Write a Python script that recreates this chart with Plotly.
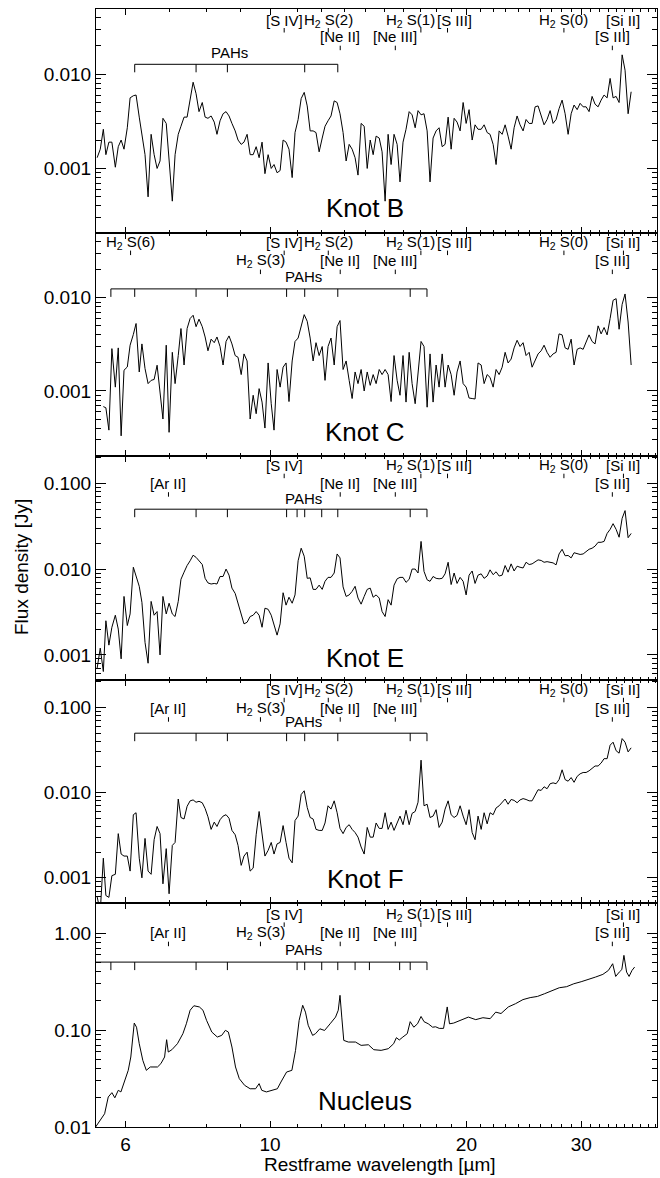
import numpy as np
import plotly.graph_objects as go
from plotly.subplots import make_subplots

# ---------------- data ----------------
# shared wavelength sampling (micron) for the four knot spectra
WAVE = [
    5.43, 5.49, 5.55, 5.60, 5.66, 5.72, 5.79, 5.85, 5.91, 5.97,
    6.04, 6.10, 6.17, 6.23, 6.30, 6.36, 6.43, 6.50, 6.57, 6.64,
    6.71, 6.78, 6.85, 6.93, 7.00, 7.08, 7.15, 7.23, 7.30, 7.38,
    7.46, 7.54, 7.62, 7.70, 7.78, 7.87, 7.95, 8.03, 8.12, 8.21,
    8.29, 8.38, 8.47, 8.56, 8.65, 8.74, 8.84, 8.93, 9.03, 9.12,
    9.22, 9.32, 9.42, 9.52, 9.62, 9.72, 9.82, 9.93, 10.04, 10.14,
    10.25, 10.36, 10.47, 10.58, 10.69, 10.81, 10.92, 11.04, 11.16, 11.28,
    11.40, 11.52, 11.64, 11.76, 11.89, 12.02, 12.14, 12.27, 12.40, 12.54,
    12.67, 12.80, 12.94, 13.08, 13.22, 13.36, 13.50, 13.64, 13.79, 13.94,
    14.09, 14.24, 14.39, 14.54, 14.70, 14.85, 15.01, 15.17, 15.33, 15.49,
    15.66, 15.82, 15.99, 16.16, 16.34, 16.51, 16.69, 16.86, 17.04, 17.22,
    17.41, 17.59, 17.78, 17.97, 18.16, 18.36, 18.55, 18.75, 18.95, 19.15,
    19.35, 19.56, 19.77, 19.98, 20.19, 20.41, 20.62, 20.84, 21.07, 21.29,
    21.52, 21.74, 21.98, 22.21, 22.45, 22.69, 22.93, 23.17, 23.42, 23.67,
    23.92, 24.17, 24.43, 24.69, 24.96, 25.22, 25.49, 25.76, 26.04, 26.31,
    26.59, 26.88, 27.16, 27.45, 27.74, 28.04, 28.34, 28.64, 28.95, 29.25,
    29.57, 29.88, 30.20, 30.52, 30.84, 31.17, 31.50, 31.84, 32.18, 32.52,
    32.87, 33.22, 33.57, 33.93, 34.29, 34.66, 35.02, 35.40, 35.78, 36.16,
]

FLUX_B = [
    0.0013, 0.0016, 0.0026, 0.0014, 0.0019, 0.0019, 0.00103, 0.0017, 0.0020, 0.0016,
    0.0027, 0.0056, 0.0059, 0.0060, 0.0035, 0.0023, 0.0014, 0.0005, 0.0023, 0.0014,
    0.0010, 0.0012, 0.0034, 0.0030, 0.0013, 0.00045, 0.0014, 0.0023, 0.0028, 0.0035,
    0.0035, 0.0053, 0.0082, 0.0062, 0.0040, 0.0050, 0.0035, 0.0034, 0.0036, 0.0031,
    0.0023, 0.0032, 0.0038, 0.0040, 0.0036, 0.0030, 0.0025, 0.0020, 0.0018, 0.0019,
    0.0023, 0.0014, 0.0014, 0.0017, 0.0013, 0.0019, 0.00088, 0.0014, 0.0010, 0.0011,
    0.0009, 0.00095, 0.0020, 0.0019, 0.0016, 0.0008, 0.0024, 0.0033, 0.0055, 0.0064,
    0.0046, 0.0025, 0.0025, 0.0024, 0.0015, 0.0021, 0.0028, 0.0032, 0.0036, 0.0052,
    0.0050, 0.0038, 0.0024, 0.0012, 0.0018, 0.0016, 0.0013, 0.00085, 0.0030, 0.0028,
    0.0010, 0.0020, 0.0014, 0.0022, 0.0021, 0.0015, 0.00045, 0.0023, 0.0011, 0.0023,
    0.0018, 0.00072, 0.0019, 0.0026, 0.0040, 0.0037, 0.0027, 0.0041, 0.0037, 0.0038,
    0.0025, 0.00072, 0.0021, 0.0025, 0.0027, 0.0017, 0.0018, 0.0035, 0.0016, 0.0034,
    0.0031, 0.0025, 0.0050, 0.0030, 0.0042, 0.0020, 0.0029, 0.0026, 0.0026, 0.0029,
    0.0024, 0.0023, 0.0018, 0.0011, 0.0025, 0.0023, 0.0029, 0.0022, 0.0016, 0.0027,
    0.0036, 0.0029, 0.0025, 0.0033, 0.0030, 0.0030, 0.0045, 0.0046, 0.0036, 0.0029,
    0.0033, 0.0041, 0.0030, 0.0033, 0.0043, 0.0053, 0.0038, 0.0023, 0.0038, 0.0047,
    0.0042, 0.0049, 0.0045, 0.0045, 0.0040, 0.0058, 0.0048, 0.0045, 0.0053, 0.0060,
    0.0056, 0.0090, 0.0056, 0.0058, 0.0050, 0.0160, 0.0110, 0.0038, 0.0065, None,
]

FLUX_C = [
    None, None, 0.00068, 0.00066, 0.00038, 0.00285, 0.0011, 0.0029, 0.00033, 0.00167,
    0.00181, 0.0031, 0.00404, 0.0053, 0.0016, 0.0032, 0.00174, 0.0012, 0.0013, 0.00133,
    0.00189, 0.00098, 0.0005, 0.0031, 0.00036, 0.0026, 0.0012, 0.0024, 0.00468, 0.0019,
    0.00468, 0.0060, 0.0065, 0.0049, 0.0059, 0.0049, 0.0038, 0.0027, 0.0036, 0.0033,
    0.0038, 0.0030, 0.0019, 0.0034, 0.0039, 0.0032, 0.0024, 0.0023, 0.0015, 0.0025,
    0.0021, 0.0005, 0.0009, 0.00057, 0.00106, 0.00076, 0.0004, 0.0020, 0.00073, 0.00038,
    0.0017, 0.0011, 0.0018, 0.0020, 0.00077, 0.0021, 0.0034, 0.0037, 0.0051, 0.0066,
    0.0056, 0.0037, 0.0021, 0.0033, 0.0024, 0.0030, 0.0013, 0.0030, 0.0037, 0.0019,
    0.0049, 0.0057, 0.0017, 0.0021, 0.0013, 0.00083, 0.0016, 0.0012, 0.0017, 0.0010,
    0.0016, 0.00115, 0.0015, 0.0012, 0.0017, 0.0015, 0.0017, 0.0015, 0.00077, 0.0024,
    0.0013, 0.0009, 0.0024, 0.00076, 0.0026, 0.0012, 0.00073, 0.0015, 0.0034, 0.0030,
    0.00067, 0.0025, 0.00076, 0.0019, 0.0011, 0.0025, 0.0011, 0.0019, 0.0015, 0.0009,
    0.0016, 0.0021, 0.0012, 0.0011, 0.00084, 0.00083, 0.00082, 0.0020, 0.0019, 0.0012,
    0.0015, 0.0014, 0.0011, 0.0017, 0.0015, 0.0018, 0.0026, 0.0020, 0.0022, 0.0029,
    0.0035, 0.0030, 0.0033, 0.0024, 0.0026, 0.0018, 0.0021, 0.0025, 0.0027, 0.0031,
    0.0026, 0.0023, 0.0025, 0.0026, 0.0041, 0.0040, 0.0029, 0.0028, 0.0036, 0.0019,
    0.0028, 0.0029, 0.0028, 0.0034, 0.0040, 0.0034, 0.0032, 0.0050, 0.0041, 0.0048,
    0.0040, 0.0060, 0.0094, 0.0098, 0.0046, 0.0085, 0.0110, 0.0055, 0.0019, None,
]

FLUX_E = [
    0.0007, 0.0012, 0.00064, 0.0025, 0.0013, 0.0021, 0.0029, 0.0020, 0.0009, 0.0048,
    0.0022, 0.0030, 0.0105, 0.0080, 0.0063, 0.0041, 0.0014, 0.0008, 0.0042, 0.0029,
    0.0032, 0.0010, 0.0048, 0.0030, 0.0040, 0.0030, 0.0028, 0.0042, 0.0076, 0.0092,
    0.0110, 0.0125, 0.0145, 0.0137, 0.0126, 0.0113, 0.0078, 0.0069, 0.0067, 0.0068,
    0.0067, 0.0082, 0.0082, 0.0100, 0.0085, 0.0060, 0.0052, 0.0040, 0.0030, 0.0023,
    0.0024, 0.0028, 0.0029, 0.0032, 0.0029, 0.0021, 0.0035, 0.0034, 0.0029, 0.0023,
    0.0017, 0.0023, 0.0053, 0.0038, 0.0047, 0.0040, 0.0050, 0.0125, 0.0175, 0.0141,
    0.0078, 0.0079, 0.0058, 0.0058, 0.0065, 0.0058, 0.0072, 0.0080, 0.0080, 0.0090,
    0.0150, 0.0135, 0.0062, 0.0048, 0.0050, 0.0055, 0.0063, 0.0046, 0.0039, 0.0048,
    0.0058, 0.0060, 0.0047, 0.0050, 0.0046, 0.0032, 0.0028, 0.0044, 0.0038, 0.0065,
    0.0077, 0.0080, 0.0080, 0.0070, 0.0076, 0.0100, 0.0100, 0.0090, 0.0210, 0.0094,
    0.0075, 0.0072, 0.0082, 0.0078, 0.0077, 0.0078, 0.0088, 0.0120, 0.0066, 0.0090,
    0.0068, 0.0080, 0.0072, 0.0050, 0.0085, 0.0095, 0.0068, 0.0085, 0.0088, 0.0078,
    0.0083, 0.0098, 0.0086, 0.0093, 0.0083, 0.0085, 0.0110, 0.0092, 0.0115, 0.0095,
    0.0108, 0.0105, 0.0103, 0.0120, 0.0113, 0.0115, 0.0121, 0.0128, 0.0126, 0.0120,
    0.0122, 0.0121, 0.0118, 0.0112, 0.0150, 0.0170, 0.0143, 0.0144, 0.0135, 0.0155,
    0.0150, 0.0148, 0.0150, 0.0160, 0.0170, 0.0175, 0.0185, 0.0205, 0.0205, 0.0210,
    0.0260, 0.0290, 0.0338, 0.0290, 0.0235, 0.0390, 0.0480, 0.0232, 0.0260, None,
]

FLUX_F = [
    0.0006, 0.0004, 0.0017, 0.00062, 0.00059, 0.00106, 0.0011, 0.0033, 0.0019, 0.0018,
    0.0018, 0.0012, 0.0055, 0.0058, 0.0017, 0.0010, 0.0029, 0.0012, 0.0011, 0.0028,
    0.0040, 0.0033, 0.00085, 0.0022, 0.00065, 0.0024, 0.0026, 0.0084, 0.0051, 0.0049,
    0.0069, 0.0080, 0.0082, 0.0077, 0.0079, 0.0076, 0.0065, 0.0052, 0.0037, 0.0045,
    0.0040, 0.0048, 0.0053, 0.0055, 0.0050, 0.0036, 0.0032, 0.0024, 0.0014, 0.0018,
    0.0020, 0.0012, 0.0013, 0.0032, 0.0060, 0.0031, 0.0018, 0.0021, 0.0026, 0.0019,
    0.0025, 0.0026, 0.0041, 0.0026, 0.0017, 0.0015, 0.0047, 0.0053, 0.0095, 0.0105,
    0.0067, 0.0051, 0.0049, 0.0037, 0.0036, 0.0036, 0.0044, 0.0070, 0.0064, 0.0080,
    0.0058, 0.0038, 0.0033, 0.0039, 0.0042, 0.0037, 0.0034, 0.0030, 0.0023, 0.0019,
    0.0039, 0.0030, 0.0030, 0.0044, 0.0038, 0.0038, 0.0058, 0.0037, 0.0045, 0.0036,
    0.0044, 0.0053, 0.0042, 0.0062, 0.0042, 0.0057, 0.0060, 0.0077, 0.0240, 0.0070,
    0.0073, 0.0051, 0.0053, 0.0063, 0.0039, 0.0045, 0.0064, 0.0080, 0.0055, 0.0051,
    0.0054, 0.0070, 0.0053, 0.0042, 0.0063, 0.0034, 0.0028, 0.0053, 0.0037, 0.0058,
    0.0043, 0.0058, 0.0055, 0.0066, 0.0070, 0.0078, 0.0084, 0.0073, 0.0083, 0.0081,
    0.0076, 0.0082, 0.0085, 0.0083, 0.0080, 0.0080, 0.0093, 0.0108, 0.0106, 0.0117,
    0.0111, 0.0127, 0.0130, 0.0127, 0.0142, 0.0185, 0.0142, 0.0136, 0.0150, 0.0132,
    0.0155, 0.0166, 0.0172, 0.0172, 0.0180, 0.0193, 0.0205, 0.0205, 0.0222, 0.0250,
    0.0250, 0.0360, 0.0390, 0.0310, 0.0290, 0.0430, 0.0390, 0.0300, 0.0335, None,
]

WAVE_NUC = [
    5.40, 5.50, 5.575, 5.647, 5.72, 5.78, 5.85, 5.905, 5.98, 6.06,
    6.115, 6.16, 6.19, 6.24, 6.30, 6.38, 6.46, 6.55, 6.63, 6.72,
    6.80, 6.89, 6.94, 6.98, 7.07, 7.21, 7.35, 7.44, 7.54, 7.64,
    7.79, 7.89, 7.99, 8.14, 8.30, 8.43, 8.54, 8.63, 8.74, 8.85,
    8.97, 9.14, 9.32, 9.50, 9.62, 9.71, 9.87, 10.06, 10.26, 10.39,
    10.60, 10.80, 10.94, 11.08, 11.22, 11.33, 11.44, 11.62, 11.74, 11.92,
    12.12, 12.36, 12.60, 12.72, 12.80, 12.88, 12.97, 13.18, 13.52, 13.79,
    14.15, 14.42, 14.80, 15.18, 15.47, 15.62, 15.78, 15.98, 16.23, 16.40,
    16.61, 16.83, 17.04, 17.22, 17.48, 17.75, 17.94, 18.17, 18.45, 18.69,
    18.84, 19.12, 19.63, 20.14, 20.67, 21.20, 21.75, 22.18, 22.60, 23.19,
    23.79, 24.42, 25.05, 25.70, 26.36, 27.05, 27.76, 28.49, 29.22, 29.99,
    30.76, 31.56, 32.38, 33.02, 33.52, 33.88, 34.31, 34.62, 34.88, 35.21,
    35.52, 35.89, 36.22,
]
FLUX_NUC = [
    0.0100, 0.0122, 0.0137, 0.0204, 0.0226, 0.0200, 0.0239, 0.0230, 0.0291, 0.0384,
    0.0527, 0.0917, 0.118, 0.107, 0.0723, 0.0487, 0.0384, 0.0416, 0.0416, 0.0416,
    0.0450, 0.0527, 0.0795, 0.0593, 0.0627, 0.0723, 0.0917, 0.116, 0.160, 0.178,
    0.173, 0.160, 0.126, 0.0953, 0.0847, 0.0881, 0.0993, 0.0953, 0.0668, 0.0416,
    0.0315, 0.0269, 0.0248, 0.0248, 0.0280, 0.0239, 0.0230, 0.0239, 0.0248, 0.0291,
    0.0369, 0.0384, 0.0617, 0.126, 0.180, 0.153, 0.112, 0.0881, 0.0917, 0.103,
    0.0990, 0.116, 0.136, 0.160, 0.228, 0.136, 0.0782, 0.0752, 0.0752, 0.0695,
    0.0705, 0.0627, 0.0617, 0.0642, 0.0723, 0.0834, 0.0790, 0.0847, 0.0917, 0.122,
    0.107, 0.116, 0.138, 0.122, 0.116, 0.107, 0.108, 0.104, 0.104, 0.173,
    0.116, 0.118, 0.128, 0.136, 0.128, 0.134, 0.131, 0.153, 0.148, 0.173,
    0.187, 0.206, 0.216, 0.222, 0.237, 0.252, 0.273, 0.280, 0.300, 0.315,
    0.330, 0.352, 0.375, 0.412, 0.483, 0.357, 0.396, 0.420, 0.589, 0.396,
    0.357, 0.412, 0.446,
]

PANEL_NAMES = ["Knot B", "Knot C", "Knot E", "Knot F", "Nucleus"]

# log10 ranges of the flux axes
Y_RANGES = [(-3.68, -1.31), (-3.70, -1.30), (-3.29, -0.685), (-3.30, -0.677), (-2.0, 0.306)]
Y_TICKVALS = [[0.001, 0.01], [0.001, 0.01], [0.001, 0.01, 0.1], [0.001, 0.01, 0.1], [0.01, 0.1, 1.0]]
Y_TICKTEXT = [["0.001", "0.010"], ["0.001", "0.010"], ["0.001", "0.010", "0.100"],
              ["0.001", "0.010", "0.100"], ["0.01", "0.10", "1.00"]]

X_TICKVALS = [6, 10, 20, 30]
X_TICKTEXT = ["6", "10", "20", "30"]

# emission lines (micron) and their labels
LINE_WAVE = {
    "H2S6": 6.11, "ArII": 6.985, "H2S3": 9.665, "SIV": 10.51, "H2S2": 12.28,
    "NeII": 12.81, "NeIII": 15.56, "H2S1": 17.03, "SIII19": 18.71,
    "H2S0": 28.22, "SIII33": 33.48, "SiII": 34.82,
}
LINE_TEXT = {
    "H2S6": "H<sub>2</sub> S(6)", "ArII": "[Ar II]", "H2S3": "H<sub>2</sub> S(3)",
    "SIV": "[S IV]", "H2S2": "H<sub>2</sub> S(2)", "NeII": "[Ne II]", "NeIII": "[Ne III]",
    "H2S1": "H<sub>2</sub> S(1)", "SIII19": "[S III]", "H2S0": "H<sub>2</sub> S(0)",
    "SIII33": "[S III]", "SiII": "[Si II]",
}
LINE_SHIFT = {"H2S1": -10, "SIII19": 7}

PANEL_LINES = [
    [("SIV", 1), ("H2S2", 1), ("NeII", 2), ("NeIII", 2), ("H2S1", 1), ("SIII19", 1),
     ("H2S0", 1), ("SIII33", 2), ("SiII", 1)],
    [("H2S6", 1), ("H2S3", 2), ("SIV", 1), ("H2S2", 1), ("NeII", 2), ("NeIII", 2),
     ("H2S1", 1), ("SIII19", 1), ("H2S0", 1), ("SIII33", 2), ("SiII", 1)],
    [("ArII", 2), ("SIV", 1), ("NeII", 2), ("NeIII", 2), ("H2S1", 1), ("SIII19", 1),
     ("H2S0", 1), ("SIII33", 2), ("SiII", 1)],
    [("ArII", 2), ("H2S3", 2), ("SIV", 1), ("H2S2", 1), ("NeII", 2), ("NeIII", 2),
     ("H2S1", 1), ("SIII19", 1), ("H2S0", 1), ("SIII33", 2), ("SiII", 1)],
    [("ArII", 2), ("H2S3", 2), ("SIV", 1), ("NeII", 2), ("NeIII", 2), ("H2S1", 1),
     ("SIII19", 1), ("SIII33", 2), ("SiII", 1)],
]

# PAH bracket tick wavelengths per panel
PAH_TICKS = [
    [6.2, 7.7, 8.6, 11.3, 12.7],
    [5.7, 6.2, 7.7, 8.6, 10.6, 11.3, 12.7, 16.4, 17.4],
    [6.2, 7.7, 8.6, 10.6, 11.0, 11.3, 12.0, 12.7, 16.4, 17.4],
    [6.2, 7.7, 8.6, 10.6, 11.3, 12.7, 16.4, 17.4],
    [5.7, 6.2, 7.7, 8.6, 11.0, 11.3, 12.0, 12.7, 13.5, 14.2, 15.8, 16.4, 17.4],
]
PAH_FROM_EDGE = [False, False, False, False, True]
PAH_LABEL_WAVE = [8.65, 11.27, 11.27, 11.27, 11.27]

# ---------------- layout constants ----------------
FONT = "Liberation Sans, Arial, Helvetica, sans-serif"
W, H = 660, 1178
ML, MR, MT, MB = 96, 3, 9, 51
NP = 5
PANEL_H = (H - MT - MB) / NP
X_MIN, X_MAX = 5.408, 39.2
X_RANGE = [np.log10(X_MIN), np.log10(X_MAX)]

# vertical offsets (px from panel top): row1 text, row2 text, PAHs text, bracket line
OFFS = [(11, 27.7, 43.3, 55.3), (10, 28, 44, 56.3), (9.5, 27, 42, 53),
        (10, 28.4, 41.7, 53.4), (11, 29.3, 46.3, 58.7)]
NAME_OFF = [25, 24, 21.5, 24, 26]   # px above panel bottom

X_MINOR = [v for v in range(5, 40) if v not in (6, 10, 20, 30)]
Y_MINOR = [m * 10.0 ** e for e in range(-4, 1) for m in range(2, 10)]


def y_at(p, off_px):
    lo, hi = Y_RANGES[p]
    return 10 ** (hi - off_px / PANEL_H * (hi - lo))


fig = make_subplots(rows=NP, cols=1, shared_xaxes=True, vertical_spacing=0)

spectra = [(WAVE, FLUX_B), (WAVE, FLUX_C), (WAVE, FLUX_E), (WAVE, FLUX_F), (WAVE_NUC, FLUX_NUC)]
for i, (w, f) in enumerate(spectra):
    fig.add_trace(go.Scatter(x=w, y=f, mode="lines", line=dict(color="black", width=1),
                             showlegend=False, hoverinfo="skip"), row=i + 1, col=1)

annotations = []
for p in range(NP):
    r1, r2, ptxt, pline = OFFS[p]
    yref = "y domain" if p == 0 else f"y{p + 1} domain"
    xs, ys = [], []
    for key, row in PANEL_LINES[p]:
        lam = LINE_WAVE[key]
        roff = r1 if row == 1 else r2
        t0 = roff + (8 if row == 1 else 9)
        xs += [lam, lam, None]
        ys += [y_at(p, t0), y_at(p, t0 + 4.5), None]
        annotations.append(dict(
            x=np.log10(lam), xref="x", y=1 - roff / PANEL_H, yref=yref,
            text=LINE_TEXT[key], showarrow=False, xanchor="center", yanchor="middle",
            xshift=LINE_SHIFT.get(key, 0),
            font=dict(family=FONT, size=15, color="black")))
    start = X_MIN if PAH_FROM_EDGE[p] else PAH_TICKS[p][0]
    xs += [start, PAH_TICKS[p][-1], None]
    ys += [y_at(p, pline), y_at(p, pline), None]
    for t in PAH_TICKS[p]:
        xs += [t, t, None]
        ys += [y_at(p, pline), y_at(p, pline + 8), None]
    fig.add_trace(go.Scatter(x=xs, y=ys, mode="lines", line=dict(color="black", width=1),
                             showlegend=False, hoverinfo="skip"), row=p + 1, col=1)
    annotations.append(dict(
        x=np.log10(PAH_LABEL_WAVE[p]), xref="x", y=1 - ptxt / PANEL_H, yref=yref,
        text="PAHs", showarrow=False, xanchor="center", yanchor="middle",
        font=dict(family=FONT, size=15, color="black")))
    annotations.append(dict(
        x=(365 - ML) / (W - ML - MR), xref="paper", y=NAME_OFF[p] / PANEL_H, yref=yref,
        text=PANEL_NAMES[p], showarrow=False, xanchor="center", yanchor="middle",
        font=dict(family=FONT, size=26, color="black")))

annotations.append(dict(
    x=(380 - ML) / (W - ML - MR), xref="paper", y=-(1165 - (H - MB)) / (H - MT - MB), yref="paper",
    text="Restframe wavelength [\u00b5m]", showarrow=False, xanchor="center", yanchor="middle",
    font=dict(family=FONT, size=19, color="black")))
annotations.append(dict(
    x=(21 - ML) / (W - ML - MR), xref="paper", y=((H - MB) - 567) / (H - MT - MB), yref="paper",
    text="Flux density [Jy]", showarrow=False, textangle=-90, xanchor="center", yanchor="middle",
    font=dict(family=FONT, size=19, color="black")))

for p in range(NP):
    n = p + 1
    fig.update_xaxes(
        type="log", range=X_RANGE, showline=True, linecolor="black", linewidth=1,
        mirror="allticks", ticks="inside", ticklen=6, tickwidth=1, tickcolor="black",
        tickmode="array", tickvals=X_TICKVALS, ticktext=X_TICKTEXT,
        minor=dict(tickmode="array", tickvals=X_MINOR, ticks="inside", ticklen=3,
                   tickwidth=1, tickcolor="black", showgrid=False),
        showgrid=False, zeroline=False, showticklabels=(n == NP),
        tickfont=dict(family=FONT, size=19, color="black"), row=n, col=1)
    fig.update_yaxes(
        type="log", range=list(Y_RANGES[p]), showline=True, linecolor="black", linewidth=1,
        mirror="allticks", ticks="inside", ticklen=10, tickwidth=1, tickcolor="black",
        tickmode="array", tickvals=Y_TICKVALS[p], ticktext=Y_TICKTEXT[p],
        minor=dict(tickmode="array", tickvals=Y_MINOR, ticks="inside", ticklen=5,
                   tickwidth=1, tickcolor="black", showgrid=False),
        showgrid=False, zeroline=False,
        tickfont=dict(family=FONT, size=19, color="black"), row=n, col=1)

fig.update_layout(
    width=W, height=H, margin=dict(l=ML, r=MR, t=MT, b=MB, pad=0),
    paper_bgcolor="white", plot_bgcolor="white", showlegend=False,
    annotations=annotations, font=dict(family=FONT, color="black"))

fig.write_html("out.html")
